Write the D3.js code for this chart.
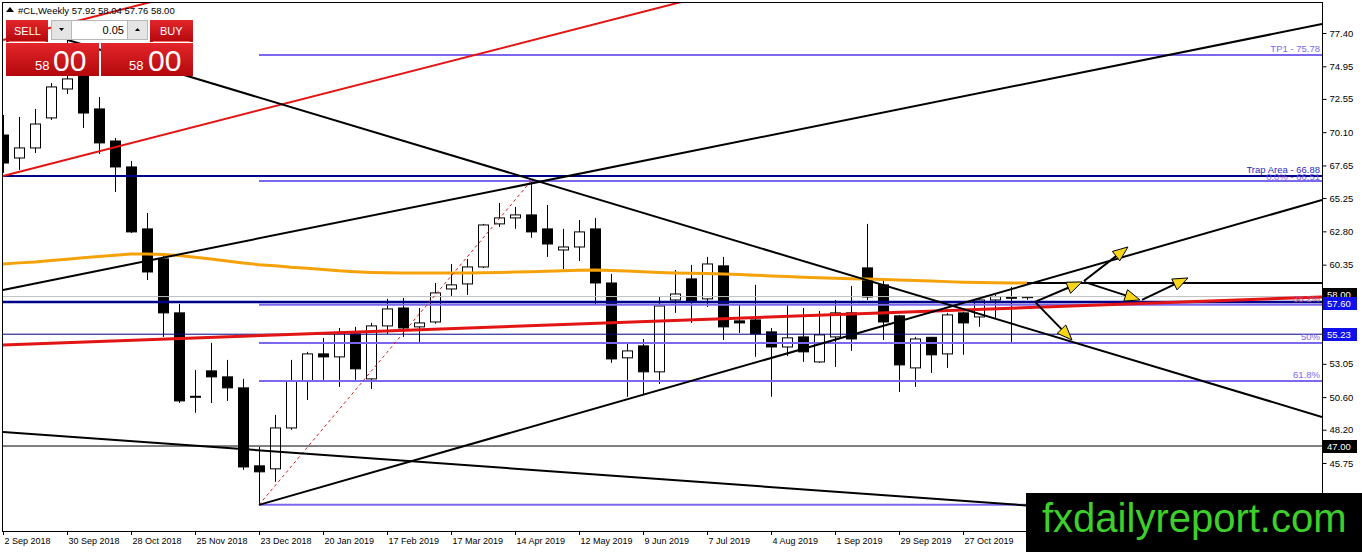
<!DOCTYPE html>
<html>
<head>
<meta charset="utf-8">
<script src="https://cdn.jsdelivr.net/npm/d3@7"></script>
<style>
  body { margin: 0; background: #fff; }
  text { font-family: "Liberation Sans", Arial, sans-serif; }
</style>
</head>
<body>
<div id="chart"></div>
<script>
// #CL weekly candles, 2 Sep 2018 .. 24 Nov 2019 (one per week)
var opens  = [69.89,68.20,68.94,71.15,73.28,74.30,71.81,69.45,67.54,62.98,60.77,56.80,50.62,52.53,52.09,51.28,45.54,45.32,48.33,51.79,53.78,53.56,55.25,51.94,55.84,57.16,55.77,56.13,58.56,58.93,60.18,63.35,63.79,64.01,62.98,61.43,61.65,62.98,59.00,53.49,54.37,52.46,57.75,59.30,57.83,60.26,56.21,56.28,55.40,54.29,55.03,53.19,55.03,56.80,60.11,58.86,56.58,52.75,55.00,53.78,56.80,56.50,57.75,57.95,57.92];
var highs  = [71.37,71.22,71.81,73.72,76.90,75.30,72.69,69.67,67.98,64.15,61.21,57.46,52.60,54.59,53.34,51.94,46.94,49.29,53.34,53.93,54.96,55.69,55.77,56.06,57.83,57.90,57.16,59.00,60.40,60.77,63.35,64.89,64.60,66.51,64.74,62.98,63.64,63.79,59.67,54.52,54.88,57.97,59.96,60.33,60.92,60.92,57.39,58.86,55.69,57.39,57.16,56.94,57.75,58.78,63.35,59.22,56.65,55.03,55.03,56.80,56.87,57.90,58.12,58.71,58.04];
var lows   = [67.10,67.32,68.57,71.00,72.91,70.41,68.50,65.70,62.68,59.22,55.03,50.17,49.44,50.17,50.32,45.24,42.67,44.36,48.19,50.39,51.87,51.35,51.87,51.20,55.25,55.03,54.66,56.00,58.05,58.12,60.10,63.12,62.98,62.32,60.92,60.03,60.62,57.39,53.12,50.62,50.76,51.57,56.80,56.06,57.24,54.81,55.32,53.56,50.62,53.63,53.19,53.12,52.82,54.00,57.75,54.81,50.98,51.35,52.38,52.75,53.71,55.77,56.43,54.66,57.76];
var closes = [67.83,68.94,70.70,73.43,74.02,71.51,69.31,67.54,62.76,59.81,56.80,50.32,50.66,52.09,51.28,45.46,45.10,48.33,51.79,53.78,53.56,55.32,52.68,55.84,57.09,55.69,56.06,58.27,58.86,60.18,63.27,63.79,64.01,62.76,61.87,61.65,62.76,59.00,53.41,54.00,52.46,57.31,58.19,57.68,60.40,55.77,56.06,55.25,54.29,54.96,53.93,55.18,56.80,54.88,57.97,56.13,52.97,54.88,53.71,56.65,56.06,57.75,58.00,57.90,58.00];

// orange moving average, one value per candle
var maValues = [60.40,60.48,60.55,60.65,60.75,60.85,60.95,61.05,61.14,61.14,61.10,61.02,60.90,60.76,60.62,60.47,60.35,60.26,60.15,60.08,60.00,59.90,59.83,59.78,59.75,59.74,59.74,59.74,59.74,59.74,59.76,59.78,59.80,59.82,59.86,59.90,59.94,59.96,59.92,59.88,59.82,59.78,59.74,59.72,59.70,59.67,59.62,59.57,59.52,59.47,59.42,59.38,59.35,59.32,59.30,59.26,59.22,59.18,59.15,59.10,59.06,59.03,59.01,59.00,58.99];

// date labels every 4 weeks (week index from 2 Sep 2018)
var dateWeeks  = [0,4,8,12,16,20,24,28,32,36,40,44,48,52,56,60];
var dateLabels = ["2 Sep 2018","30 Sep 2018","28 Oct 2018","25 Nov 2018","23 Dec 2018","20 Jan 2019","17 Feb 2019","17 Mar 2019","14 Apr 2019","12 May 2019","9 Jun 2019","7 Jul 2019","4 Aug 2019","1 Sep 2019","29 Sep 2019","27 Oct 2019"];

// right axis prices (the ones not covered by price tags)
var priceTicks = [77.40,74.95,72.55,70.10,67.65,65.25,62.80,60.35,53.05,50.60,48.20,45.75,43.30];

// levels
var tpLevel = 75.78;
var trapLevel = 66.88;
var blueLevels = [57.60, 55.23];
var bidLevel = 58.00;
var level47 = 47.00;
var level59 = 59.00;
var fibStartWeek = 16;
var fibLevels = [66.51, 57.40, 54.59, 51.78, 42.67];
var fibLabels = ["", "38.2%", "50%", "61.8%", ""];

// trend lines as [week, price] pairs
var blackLines = [
    [[0, 58.49], [82.44, 78.06]],
    [[4, 76.90], [82.44, 49.14]],
    [[16, 42.67], [82.44, 65.11]],
    [[0, 48.04], [82.44, 41.06]]
];
var redLines = [
    [[0, 66.88], [45, 80.47]],
    [[0, 76.89], [10, 79.91]]
];
var redThickLine = [[0, 54.44], [82.44, 57.97]];
var fibDashLine = [[16, 42.67], [33, 66.51]];

// forecast arrows
var arrows = [
    [[64.5, 57.61], [67.44, 59.08]],
    [[67.56, 59.15], [70.31, 61.65]],
    [[67.56, 59.08], [71.06, 57.75]],
    [[71.19, 57.75], [74.06, 59.37]],
    [[64.5, 57.61], [66.81, 54.81]]
];

var W = 1362, H = 552;
var plotL = 2, plotR = 1322, plotT = 2, plotB = 531;

var svg = d3.select("#chart").append("svg")
    .attr("width", W).attr("height", H);

svg.append("rect").attr("width", W).attr("height", H).attr("fill", "#fff");

var x = d3.scaleLinear().domain([0, 64]).range([3, 1027]);
var y = d3.scaleLinear().domain([77.40, 45.75]).range([33, 463]);

var defs = svg.append("defs");
defs.append("clipPath").attr("id", "plot")
    .append("rect").attr("x", plotL).attr("y", plotT)
    .attr("width", plotR - plotL).attr("height", plotB - plotT);

var grad = defs.append("linearGradient").attr("id", "redGrad")
    .attr("x1", 0).attr("y1", 0).attr("x2", 0).attr("y2", 1);
grad.append("stop").attr("offset", "0%").attr("stop-color", "#e3262b");
grad.append("stop").attr("offset", "100%").attr("stop-color", "#b3080c");

var g = svg.append("g").attr("clip-path", "url(#plot)");

var idx = d3.range(opens.length);
var px = function (i) { return Math.round(x(i)) + 0.5; };

// candles
g.selectAll(".wick").data(idx).enter().append("line")
    .attr("x1", px).attr("x2", px)
    .attr("y1", function (i) { return y(highs[i]); })
    .attr("y2", function (i) { return y(lows[i]); })
    .attr("stroke", "#000").attr("stroke-width", 1);

g.selectAll(".body").data(idx).enter().append("rect")
    .attr("x", function (i) { return px(i) - 5; })
    .attr("width", 10)
    .attr("y", function (i) { return y(Math.max(opens[i], closes[i])); })
    .attr("height", function (i) { return Math.max(1, Math.abs(y(opens[i]) - y(closes[i]))); })
    .attr("fill", function (i) { return closes[i] >= opens[i] ? "#fff" : "#000"; })
    .attr("stroke", "#000").attr("stroke-width", 1);

// horizontal levels
function hline(level, fromWeek, color, width) {
    g.append("line")
        .attr("x1", fromWeek == null ? plotL : x(fromWeek)).attr("x2", plotR)
        .attr("y1", y(level)).attr("y2", y(level))
        .attr("stroke", color).attr("stroke-width", width);
}

hline(bidLevel, null, "#c0c0c0", 1);
hline(level47, null, "#000", 1);
hline(level59, 64, "#000", 2);
hline(tpLevel, fibStartWeek, "#7b68ee", 2);
fibLevels.forEach(function (f) { hline(f, fibStartWeek, "#7b68ee", 2); });
hline(trapLevel, null, "#00008b", 2);
hline(blueLevels[0], null, "#00008b", 2.5);
hline(blueLevels[1], null, "#00008b", 1);

var line = d3.line()
    .x(function (d) { return x(d[0]); })
    .y(function (d) { return y(d[1]); });

// orange MA
g.append("path").datum(maValues.map(function (v, i) { return [i, v]; }))
    .attr("d", line).attr("fill", "none")
    .attr("stroke", "#f5a20a").attr("stroke-width", 3);

// red lines
g.append("path").datum(redThickLine).attr("d", line)
    .attr("stroke", "#e31414").attr("stroke-width", 3);
redLines.forEach(function (l) {
    g.append("path").datum(l).attr("d", line)
        .attr("stroke", "#e31414").attr("stroke-width", 2);
});
g.append("path").datum(fibDashLine).attr("d", line)
    .attr("stroke", "#d41c1c").attr("stroke-width", 1)
    .attr("stroke-dasharray", "3,3");

// black trend lines
blackLines.forEach(function (l) {
    g.append("path").datum(l).attr("d", line)
        .attr("stroke", "#000").attr("stroke-width", 2);
});

// level labels
var lbl = g.append("g").attr("font-size", "9.5px").attr("text-anchor", "end");
lbl.append("text").attr("x", plotR - 2).attr("y", y(tpLevel) - 3)
    .attr("fill", "#7b68ee").text("TP1 - " + tpLevel.toFixed(2));
lbl.append("text").attr("x", plotR - 2).attr("y", y(fibLevels[0]) - 1)
    .attr("fill", "#7b68ee").text("0.0% - " + fibLevels[0].toFixed(2));
lbl.append("text").attr("x", plotR - 2).attr("y", y(trapLevel) - 3)
    .attr("fill", "#2a2ac8").text("Trap Area - " + trapLevel.toFixed(2));
fibLevels.forEach(function (f, i) {
    if (!fibLabels[i]) return;
    lbl.append("text").attr("x", plotR - 2).attr("y", y(f) - 3)
        .attr("fill", i == 1 ? "#c0508a" : "#7b68ee").text(fibLabels[i]);
});

// forecast arrows
arrows.forEach(function (a) {
    var x1 = x(a[0][0]), y1 = y(a[0][1]), x2 = x(a[1][0]), y2 = y(a[1][1]);
    var ang = Math.atan2(y2 - y1, x2 - x1);
    var len = 15, half = 6;
    var bx = x2 - len * Math.cos(ang), by = y2 - len * Math.sin(ang);
    g.append("line").attr("x1", x1).attr("y1", y1).attr("x2", bx).attr("y2", by)
        .attr("stroke", "#000").attr("stroke-width", 2);
    var pts = [
        [x2, y2],
        [bx - half * Math.sin(ang), by + half * Math.cos(ang)],
        [bx + half * Math.sin(ang), by - half * Math.cos(ang)]
    ];
    g.append("polygon").attr("points", pts.map(function (p) { return p.join(","); }).join(" "))
        .attr("fill", "#f7d61a").attr("stroke", "#000").attr("stroke-width", 1);
});

// frame
svg.append("rect").attr("x", plotL + 0.5).attr("y", plotT + 0.5)
    .attr("width", plotR - plotL).attr("height", plotB - plotT)
    .attr("fill", "none").attr("stroke", "#000").attr("stroke-width", 1);

// right axis
var yAxis = svg.append("g").attr("transform", "translate(" + (plotR + 0.5) + ",0)")
    .call(d3.axisRight(y).tickValues(priceTicks).tickSize(4).tickPadding(3)
        .tickFormat(d3.format(".2f")));
yAxis.select(".domain").remove();
yAxis.selectAll("text").attr("font-size", "9.5px").attr("fill", "#000")
    .style("font-family", "Liberation Sans, Arial, sans-serif");
yAxis.selectAll("line").attr("stroke", "#000");

// bottom date labels
var xg = svg.append("g");
dateWeeks.forEach(function (w, i) {
    var tx = Math.round(x(w)) + 0.5;
    xg.append("line").attr("x1", tx).attr("x2", tx).attr("y1", plotB).attr("y2", plotB + 4)
        .attr("stroke", "#000");
    xg.append("text").attr("x", tx + 1).attr("y", 544).attr("font-size", "9px")
        .attr("fill", "#000").text(dateLabels[i]);
});

// price tags on right axis
function tag(level, bg, dy) {
    var ty = Math.round(y(level)) + (dy || 0);
    svg.append("rect").attr("x", plotR + 1).attr("y", ty - 6).attr("width", 34).attr("height", 13)
        .attr("fill", bg);
    svg.append("text").attr("x", plotR + 5).attr("y", ty + 4).attr("font-size", "9.5px")
        .attr("fill", "#fff").text(level.toFixed(2));
}
tag(bidLevel, "#000", -3);
tag(blueLevels[0], "#1010ee", 1);
tag(blueLevels[1], "#1010ee");
tag(level47, "#000");

// header
svg.append("path").attr("d", "M6,12 L10,7 L14,12 Z").attr("fill", "#000");
svg.append("text").attr("x", 18).attr("y", 14).attr("font-size", "9.5px").attr("fill", "#000")
    .text("#CL,Weekly  " + [opens[64], highs[64], lows[64], closes[64]].map(function (v) { return v.toFixed(2); }).join(" "));

// one click trading panel
var panel = svg.append("g");
panel.append("rect").attr("x", 6).attr("y", 20).attr("width", 42).attr("height", 22).attr("fill", "url(#redGrad)");
panel.append("rect").attr("x", 150).attr("y", 20).attr("width", 43).attr("height", 22).attr("fill", "url(#redGrad)");
panel.append("line").attr("x1", 9).attr("x2", 46).attr("y1", 41.5).attr("y2", 41.5).attr("stroke", "#f07070");
panel.append("line").attr("x1", 153).attr("x2", 190).attr("y1", 41.5).attr("y2", 41.5).attr("stroke", "#f07070");
panel.append("text").attr("x", 14).attr("y", 35).attr("font-size", "11px").attr("fill", "#fff").text("SELL");
panel.append("text").attr("x", 160).attr("y", 35).attr("font-size", "11px").attr("fill", "#fff").text("BUY");
panel.append("rect").attr("x", 51.5).attr("y", 20.5).attr("width", 20).attr("height", 19)
    .attr("fill", "#e4e4e4").attr("stroke", "#b8b8b8");
panel.append("rect").attr("x", 71.5).attr("y", 20.5).attr("width", 56).attr("height", 19)
    .attr("fill", "#fff").attr("stroke", "#b8b8b8");
panel.append("rect").attr("x", 127.5).attr("y", 20.5).attr("width", 20).attr("height", 19)
    .attr("fill", "#e4e4e4").attr("stroke", "#b8b8b8");
panel.append("path").attr("d", "M59,28 L64,28 L61.5,31 Z").attr("fill", "#000");
panel.append("path").attr("d", "M135,31 L140,31 L137.5,28 Z").attr("fill", "#000");
panel.append("text").attr("x", 124).attr("y", 34).attr("font-size", "11px")
    .attr("text-anchor", "end").attr("fill", "#000").text("0.05");
panel.append("rect").attr("x", 6).attr("y", 43).attr("width", 93).attr("height", 33).attr("fill", "url(#redGrad)");
panel.append("rect").attr("x", 101).attr("y", 43).attr("width", 92).attr("height", 33).attr("fill", "url(#redGrad)");
[[35, 53], [129, 148]].forEach(function (p) {
    panel.append("text").attr("x", p[0]).attr("y", 70).attr("font-size", "13px").attr("fill", "#fff").text("58");
    panel.append("text").attr("x", p[1]).attr("y", 71).attr("font-size", "30px").attr("fill", "#fff").text("00");
});

// watermark banner
svg.append("rect").attr("x", 1026).attr("y", 493).attr("width", 336).attr("height", 59).attr("fill", "#000");
svg.append("text").attr("x", 1042).attr("y", 532).attr("font-size", "40px")
    .attr("fill", "#3dcf2a").text("fxdailyreport.com");
</script>
</body>
</html>
